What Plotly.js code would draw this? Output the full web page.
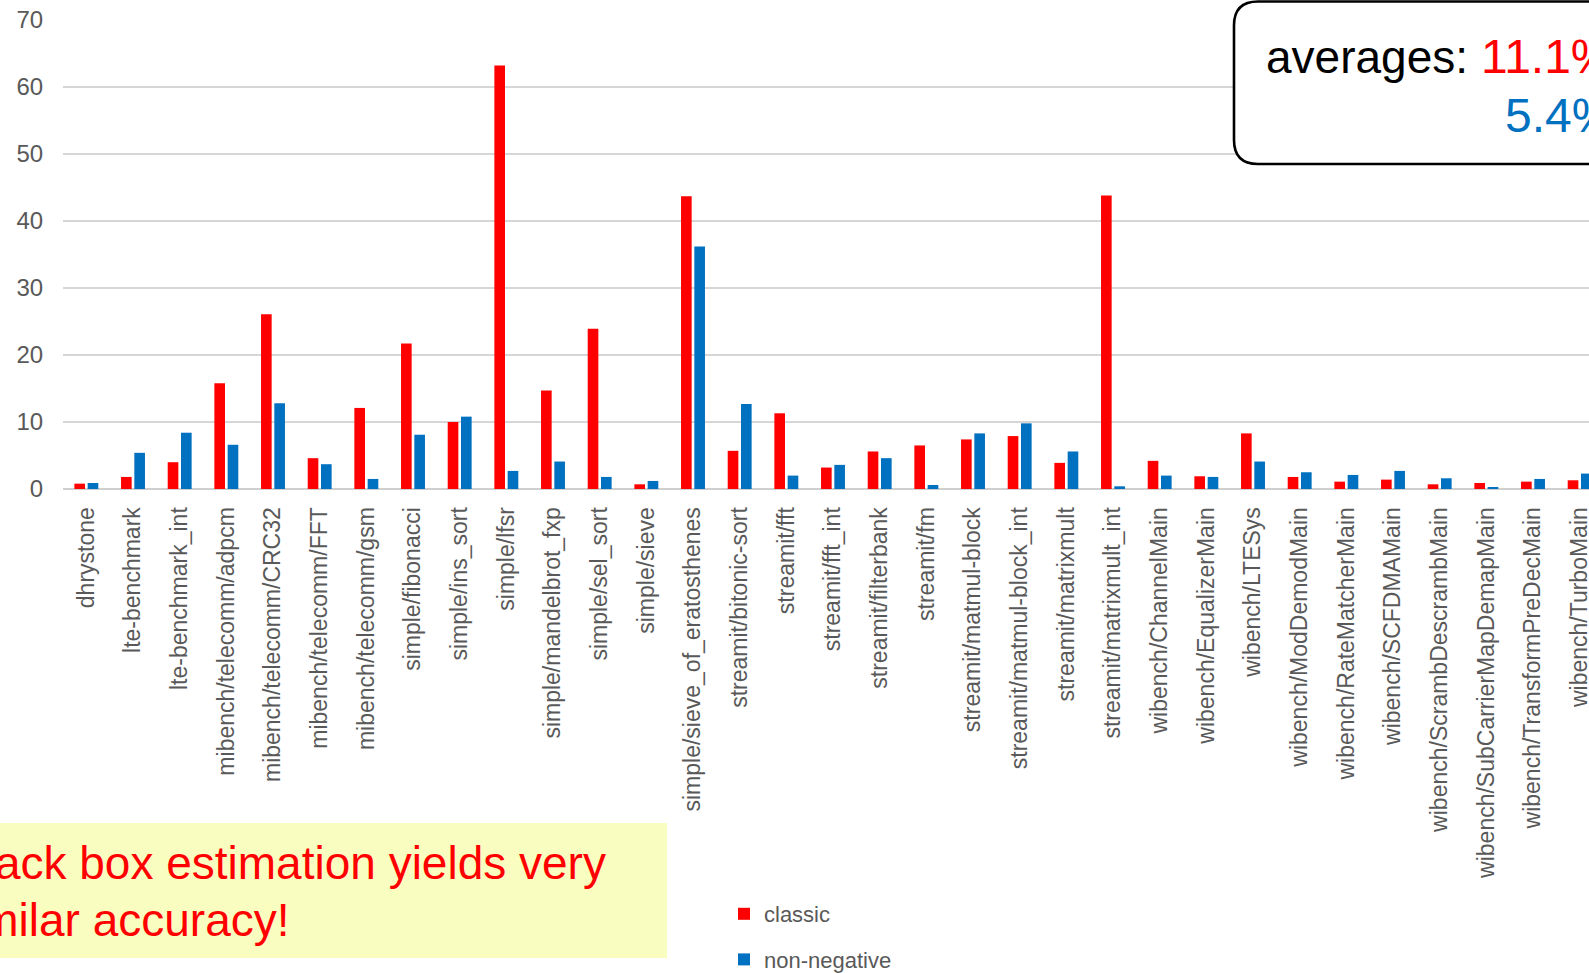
<!DOCTYPE html>
<html>
<head>
<meta charset="utf-8">
<script src="https://cdn.plot.ly/plotly-3.0.1.min.js"></script>
<style>
html, body { margin: 0; padding: 0; overflow: hidden; background: #fff; }
#chart { width: 1620px; height: 973px; }
</style>
</head>
<body>
<div id="chart"></div>
<script>
// ---- data ----
const categories = [
  "dhrystone", "lte-benchmark", "lte-benchmark_int",
  "mibench/telecomm/adpcm", "mibench/telecomm/CRC32", "mibench/telecomm/FFT", "mibench/telecomm/gsm",
  "simple/fibonacci", "simple/ins_sort", "simple/lfsr", "simple/mandelbrot_fxp", "simple/sel_sort",
  "simple/sieve", "simple/sieve_of_eratosthenes",
  "streamit/bitonic-sort", "streamit/fft", "streamit/fft_int", "streamit/filterbank", "streamit/fm",
  "streamit/matmul-block", "streamit/matmul-block_int", "streamit/matrixmult", "streamit/matrixmult_int",
  "wibench/ChannelMain", "wibench/EqualizerMain", "wibench/LTESys", "wibench/ModDemodMain",
  "wibench/RateMatcherMain", "wibench/SCFDMAMain", "wibench/ScrambDescrambMain",
  "wibench/SubCarrierMapDemapMain", "wibench/TransformPreDecMain", "wibench/TurboMain"
];
const classicValues = [
  0.8, 1.8, 4.0,
  15.8, 26.1, 4.6, 12.1,
  21.7, 10.0, 63.2, 14.7, 23.9,
  0.7, 43.7,
  5.7, 11.3, 3.2, 5.6, 6.5,
  7.4, 7.9, 3.9, 43.8,
  4.2, 1.9, 8.3, 1.8,
  1.1, 1.4, 0.7,
  0.9, 1.1, 1.3
];
const nonNegativeValues = [
  0.9, 5.4, 8.4,
  6.6, 12.8, 3.7, 1.5,
  8.1, 10.8, 2.7, 4.1, 1.8,
  1.2, 36.2,
  12.7, 2.0, 3.6, 4.6, 0.6,
  8.3, 9.8, 5.6, 0.4,
  2.0, 1.8, 4.1, 2.5,
  2.1, 2.7, 1.6,
  0.3, 1.5, 2.3
];
const seriesNames = ["classic", "non-negative"];
const seriesColors = ["#FF0000", "#0070C0"];
const yTickValues = [0, 10, 20, 30, 40, 50, 60, 70];
const averageLabel = "averages:";
const averageClassic = "11.1%";
const averageNonNegative = "5.4%";
const noteLine1 = "Black box estimation yields very";
const noteLine2 = "similar accuracy!";

// ---- layout geometry ----
const W = 1620, H = 973;
const ML = 63, MR = 17, MT = 20, MB = 484;
const PW = W - ML - MR, PH = H - MT - MB;
const px2x = px => (px - ML) / PW;
const py2y = py => (H - MB - py) / PH;

const FONT = "Liberation Sans, Arial, Helvetica, sans-serif";
const GRAY = "#595959";

const traces = [
  { type: "bar", name: seriesNames[0], x: categories, y: classicValues,
    marker: { color: seriesColors[0] }, legendgroup: "a", hoverinfo: "x+y" },
  { type: "bar", name: seriesNames[1], x: categories, y: nonNegativeValues,
    marker: { color: seriesColors[1] }, legendgroup: "b", hoverinfo: "x+y" }
];

// rounded box (left corners rounded, right side runs off the page)
const bx0 = 1234, by0 = 1.5, by1 = 164, bx1 = 1700, r = 24;
const boxPath = [
  "M", px2x(bx1), py2y(by0),
  "L", px2x(bx0 + r), py2y(by0),
  "Q", px2x(bx0), py2y(by0), px2x(bx0), py2y(by0 + r),
  "L", px2x(bx0), py2y(by1 - r),
  "Q", px2x(bx0), py2y(by1), px2x(bx0 + r), py2y(by1),
  "L", px2x(bx1), py2y(by1)
].join(" ");

const layout = {
  width: W, height: H,
  margin: { l: ML, r: MR, t: MT, b: MB, pad: 0, autoexpand: false },
  paper_bgcolor: "#ffffff", plot_bgcolor: "#ffffff",
  font: { family: FONT, color: GRAY },
  barmode: "group",
  bargap: 0.43,
  bargroupgap: 0.2,
  showlegend: true,
  legend: {
    x: px2x(724), y: py2y(893), xanchor: "left", yanchor: "top",
    orientation: "v", font: { family: FONT, size: 22, color: GRAY },
    bgcolor: "rgba(0,0,0,0)", tracegroupgap: 14, traceorder: "grouped"
  },
  xaxis: {
    type: "category",
    range: [-0.5, categories.length - 0.5],
    tickangle: -90,
    tickfont: { family: FONT, size: 23, color: GRAY },
    ticks: "outside", ticklen: 8, tickcolor: "rgba(0,0,0,0)",
    showgrid: false, showline: false, zeroline: false, fixedrange: true
  },
  yaxis: {
    range: [0, 70],
    tickvals: yTickValues,
    ticktext: yTickValues.map(String),
    tickfont: { family: FONT, size: 24, color: GRAY },
    ticks: "outside", ticklen: 14, tickcolor: "rgba(0,0,0,0)",
    showgrid: true, gridcolor: "#d6d6d6", gridwidth: 1.4,
    zeroline: true, zerolinecolor: "#cfcfcf", zerolinewidth: 2,
    showline: false, fixedrange: true
  },
  shapes: [
    { type: "rect", xref: "paper", yref: "paper",
      x0: px2x(-5), x1: px2x(667), y0: py2y(958), y1: py2y(823),
      fillcolor: "#FAFDC0", line: { width: 0 }, layer: "above" },
    { type: "path", xref: "paper", yref: "paper", path: boxPath + " Z",
      fillcolor: "#ffffff", line: { width: 0 }, layer: "above" },
    { type: "path", xref: "paper", yref: "paper", path: boxPath,
      fillcolor: "rgba(0,0,0,0)", line: { color: "#000000", width: 2.6 }, layer: "above" }
  ],
  annotations: [
    { xref: "paper", yref: "paper", x: px2x(1264), y: py2y(57), xanchor: "left", yanchor: "middle",
      text: averageLabel, showarrow: false, font: { family: FONT, size: 46, color: "#000000" } },
    { xref: "paper", yref: "paper", x: px2x(1479), y: py2y(57), xanchor: "left", yanchor: "middle",
      text: averageClassic, showarrow: false, font: { family: FONT, size: 48, color: seriesColors[0] } },
    { xref: "paper", yref: "paper", x: px2x(1503), y: py2y(115), xanchor: "left", yanchor: "middle",
      text: averageNonNegative, showarrow: false, font: { family: FONT, size: 48, color: seriesColors[1] } },
    { xref: "paper", yref: "paper", x: px2x(-48), y: py2y(863), xanchor: "left", yanchor: "middle",
      align: "left", text: noteLine1, showarrow: false,
      font: { family: FONT, size: 46, color: "#FF0000" } },
    { xref: "paper", yref: "paper", x: px2x(-55), y: py2y(920), xanchor: "left", yanchor: "middle",
      align: "left", text: noteLine2, showarrow: false,
      font: { family: FONT, size: 46, color: "#FF0000" } }
  ]
};

Plotly.newPlot("chart", traces, layout, { displayModeBar: false, staticPlot: true });
</script>
</body>
</html>
